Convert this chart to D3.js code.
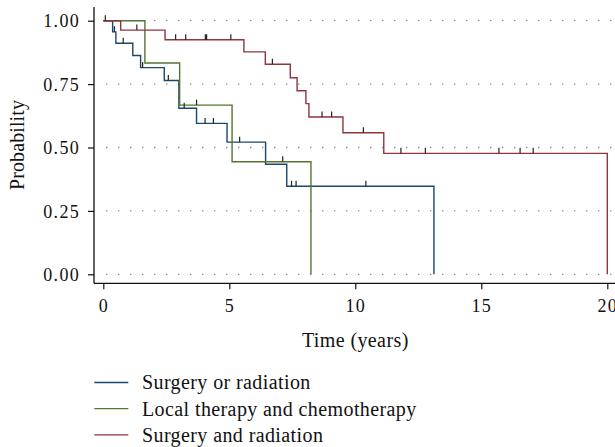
<!DOCTYPE html>
<html>
<head>
<meta charset="utf-8">
<script src="https://cdn.jsdelivr.net/npm/d3@7"></script>
<style>
  html, body { margin: 0; padding: 0; background: #fff; }
  svg { display: block; }
  text { font-family: "Liberation Serif", serif; fill: #111; }
</style>
</head>
<body>
<svg id="chart" width="615" height="447"></svg>
<script>
// ---- Data ----
const seriesNames = ["Surgery or radiation", "Local therapy and chemotherapy", "Surgery and radiation"];
const seriesColors = ["#1a476f", "#55752f", "#90353b"];

// Surgery or radiation
const blueTimes  = [0, 0.37, 0.50, 1.17, 1.48, 2.42, 3.00, 3.70, 4.91, 6.44, 7.28, 13.12];
const blueSurv   = [1, 0.956, 0.911, 0.863, 0.815, 0.764, 0.655, 0.595, 0.521, 0.434, 0.347, 0];
const blueCens   = [0.44, 0.79, 1.56, 2.58, 3.21, 4.04, 4.37, 5.41, 7.47, 7.65, 10.42];

// Local therapy and chemotherapy
const greenTimes = [0, 1.65, 3.03, 5.11, 8.24];
const greenSurv  = [1, 0.833, 0.667, 0.444, 0];
const greenCens  = [3.70, 7.12];

// Surgery and radiation
const redTimes   = [0, 0.69, 2.45, 5.58, 6.43, 7.42, 7.69, 8.04, 8.16, 9.51, 11.13, 20.0];
const redSurv    = [1, 0.963, 0.925, 0.877, 0.828, 0.775, 0.724, 0.673, 0.620, 0.558, 0.477, 0];
const redCens    = [0.08, 1.33, 2.87, 3.27, 4.05, 4.10, 5.06, 6.71, 8.68, 9.06, 10.32, 11.81, 12.78, 15.70, 16.54, 17.06];

const xTicks = [0, 5, 10, 15, 20];
const yTicks = [0, 0.25, 0.5, 0.75, 1];

const series = [
  {times: blueTimes, surv: blueSurv, cens: blueCens},
  {times: greenTimes, surv: greenSurv, cens: greenCens},
  {times: redTimes, surv: redSurv, cens: redCens}
];

// ---- Layout ----
const svg = d3.select("#chart");
const x = d3.scaleLinear().domain([0, 20]).range([103.3, 607.3]);
const y = d3.scaleLinear().domain([0, 1]).range([274.3, 20.7]);
const axisX = 94;      // y-axis line position
const axisY = 283.3;   // x-axis line position
const FONT = "Liberation Serif";
const TICK_FS = "18px", TICK_LS = "1.3px";
const FS = "20px", LS = "0.4px";

// gridlines (dotted)
svg.append("g").selectAll("line").data(yTicks).join("line")
  .attr("x1", 106).attr("x2", 615)
  .attr("y1", d => y(d)).attr("y2", d => y(d))
  .attr("stroke", "#8a8a8a").attr("stroke-width", 1.3)
  .attr("stroke-dasharray", "1.4 10.6");

// y axis
const gy = svg.append("g").attr("transform", `translate(${axisX},0)`)
  .call(d3.axisLeft(y).tickValues(yTicks).tickFormat(d3.format(".2f")).tickSize(6).tickSizeOuter(0));
gy.select(".domain").remove();
gy.selectAll(".tick line").attr("stroke", "#111").attr("stroke-width", 1.2);
gy.selectAll(".tick text").attr("x", -14).attr("dy", "0.34em")
  .style("font-family", FONT).style("font-size", TICK_FS).style("letter-spacing", TICK_LS).attr("fill", "#111");
svg.append("line").attr("x1", axisX).attr("x2", axisX).attr("y1", 7).attr("y2", axisY)
  .attr("stroke", "#111").attr("stroke-width", 1.3);

// x axis
const gx = svg.append("g").attr("transform", `translate(0,${axisY})`)
  .call(d3.axisBottom(x).tickValues(xTicks).tickFormat(d3.format("d")).tickSize(6).tickSizeOuter(0));
gx.select(".domain").remove();
gx.selectAll(".tick line").attr("stroke", "#111").attr("stroke-width", 1.2);
gx.selectAll(".tick text").attr("y", 28.7).attr("dy", 0)
  .style("font-family", FONT).style("font-size", TICK_FS).style("letter-spacing", TICK_LS).attr("fill", "#111");
svg.append("line").attr("x1", axisX).attr("x2", 615).attr("y1", axisY).attr("y2", axisY)
  .attr("stroke", "#111").attr("stroke-width", 1.3);

// axis titles
svg.append("text").attr("x", (x(0) + x(20)) / 2).attr("y", 346.5)
  .attr("text-anchor", "middle").style("font-family", FONT).style("font-size", FS).style("letter-spacing", LS)
  .text("Time (years)");
svg.append("text").attr("transform", `translate(24,145) rotate(-90)`)
  .attr("text-anchor", "middle").style("font-family", FONT).style("font-size", FS).style("letter-spacing", "0.1px")
  .text("Probability");

// curves
const line = d3.line().curve(d3.curveStepAfter).x(d => x(d[0])).y(d => y(d[1]));
series.forEach((s, i) => {
  const pts = s.times.map((t, j) => [t, s.surv[j]]);
  svg.append("path").datum(pts).attr("d", line)
    .attr("fill", "none").attr("stroke", seriesColors[i]).attr("stroke-width", 1.4);
});

// censor ticks
series.forEach((s, i) => {
  const survAt = t => s.surv[Math.max(0, d3.bisectRight(s.times, t) - 1)];
  svg.append("g").selectAll("line").data(s.cens).join("line")
    .attr("x1", d => x(d)).attr("x2", d => x(d))
    .attr("y1", d => y(survAt(d))).attr("y2", d => y(survAt(d)) - 5.5)
    .attr("stroke", "#222").attr("stroke-width", 1.2);
});

// legend
const legendY = [382.5, 408.7, 434.9];
const lg = svg.append("g");
seriesNames.forEach((name, i) => {
  lg.append("line").attr("x1", 94.3).attr("x2", 128.3)
    .attr("y1", legendY[i]).attr("y2", legendY[i])
    .attr("stroke", seriesColors[i]).attr("stroke-width", 1.3);
  lg.append("text").attr("x", 142).attr("y", legendY[i] + 6.8)
    .style("font-family", FONT).style("font-size", FS).style("letter-spacing", LS).text(name);
});
</script>
</body>
</html>
